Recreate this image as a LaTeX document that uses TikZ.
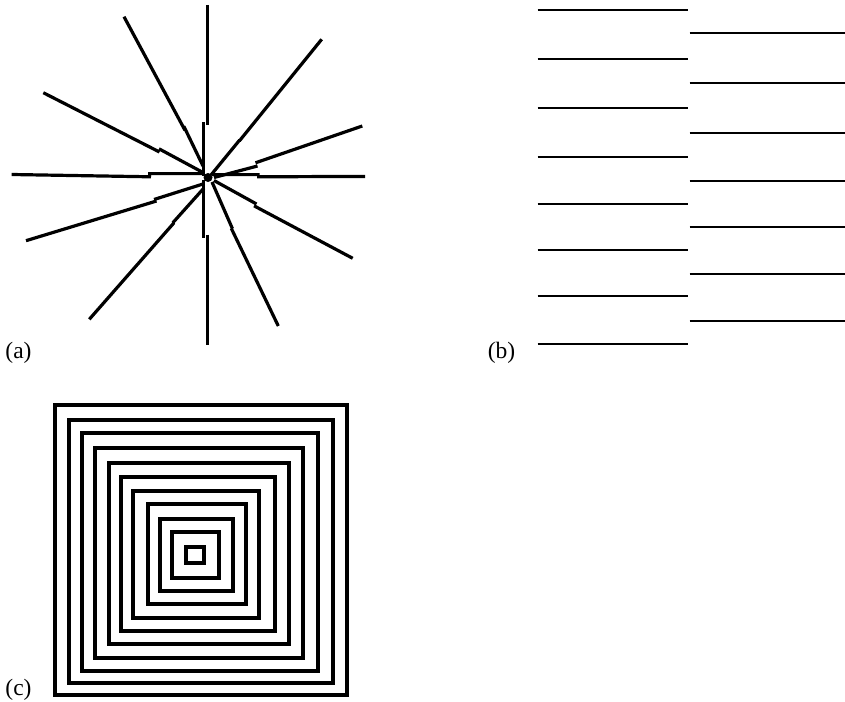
\documentclass[tikz,border=0pt]{standalone}
\usepackage{fontspec}
\setmainfont{Liberation Serif}
\begin{document}
\begin{tikzpicture}[x=1pt,y=-1pt,
  spoke/.style={line width=3.2pt,line cap=butt},
  hline/.style={line width=2pt},
  sq/.style={line width=4pt},
  lab/.style={font=\fontsize{23.5}{27}\selectfont,inner sep=0pt}]
\useasboundingbox (0,0) rectangle (845,701);
% (a) star
\draw[spoke] (207.7,5) -- (207.7,125) (203.3,122) -- (203.3,176);
\draw[spoke] (203.3,180) -- (203.3,237.5) (207.3,234.5) -- (207.3,345);
\draw[spoke] (11.7,174.5) -- (151,176.8) (148,173.6) -- (204,173.6);
\draw[spoke] (212,174.6) -- (259.5,174.6) (257,176.8) -- (365,176.4);
\draw[spoke] (124,16.7) -- (185,130.3) (183.8,126.2) -- (203,166);
\draw[spoke] (43.3,92.7) -- (159.5,152) (159,148.8) -- (203,172.5);
\draw[spoke] (321.7,39.3) -- (239.5,140.8) (239.5,140.2) -- (211,175);
\draw[spoke] (362.3,126) -- (255.5,162.8) (257.5,166) .. controls (236,172) .. (214,177.5);
\draw[spoke] (26,240.7) -- (156.5,201) (154,199.5) -- (203,184);
\draw[spoke] (89.3,319.3) -- (174,222.8) (172.8,222.8) -- (204,188);
\draw[spoke] (278.3,326) -- (231.3,228.4) (232.4,228.6) -- (212,182);
\draw[spoke] (352.7,258.3) -- (254,205.8) (256.5,204) -- (214,180.5);
\fill (208,177.5) circle (4.5);
\node[lab] (la) at (18.5,353) {(a)};
% (b) lines
\foreach \yy in {10,59.3,108.3,156.7,204,250,296,344.3}
  \draw[hline] (537.5,\yy) -- (688,\yy);
\foreach \yy in {33.3,82.7,133.3,181,227.3,274,320.7}
  \draw[hline] (689.5,\yy) -- (845,\yy);
\node[lab] (lb) at (501.5,353) {(b)};
% (c) squares
\foreach \l/\t/\r/\b in {55/405/347/695, 68.7/420/332.5/683.3, 81.7/433.3/318/670.5,
  95.3/447.7/303/657.5, 108.5/463/288.5/644, 120.5/476.7/274.5/631,
  133.3/491/259/617.5, 147.5/504.3/246/604, 159.7/518.7/232.5/591.3,
  172/532/218.5/578.3, 186/546.7/203.5/563.3}
  \draw[sq] (\l,\t) rectangle (\r,\b);
\node[lab] (lc) at (18.5,690) {(c)};
\end{tikzpicture}
\end{document}
